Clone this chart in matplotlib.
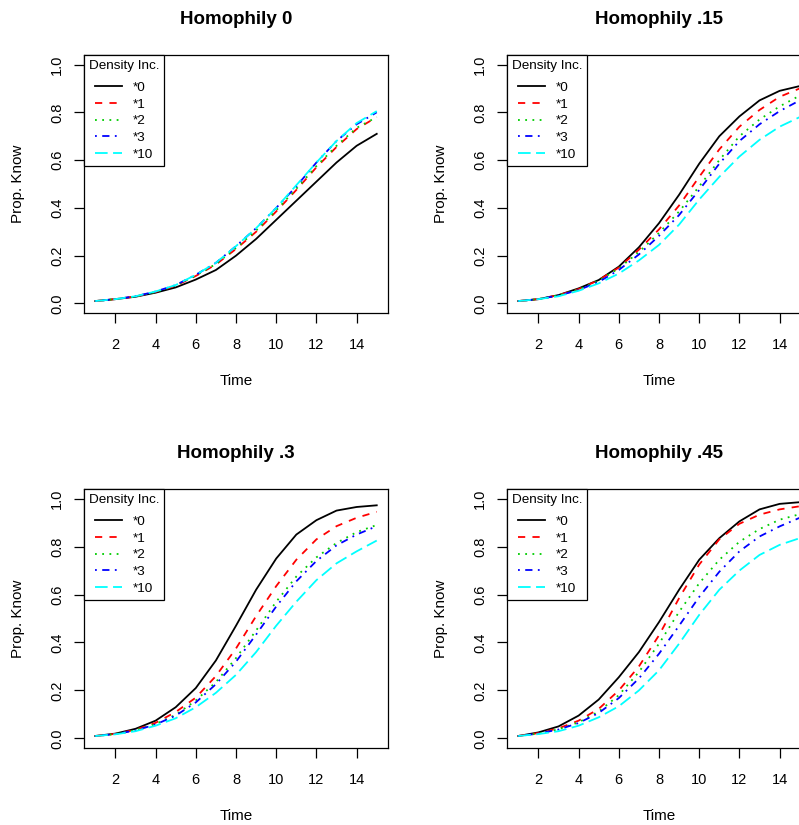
import numpy as np
import matplotlib.pyplot as plt

plt.rcParams['font.family'] = ['Liberation Sans', 'DejaVu Sans']

time = np.arange(1, 16)

titles = ["Homophily 0", "Homophily .15", "Homophily .3", "Homophily .45"]
labels = ["*0", "*1", "*2", "*3", "*10"]
colors = ["black", "red", "#00CD00", "blue", "cyan"]
dashes = [None, (4, 4), (1, 3), (1, 3, 4, 3), (7, 3)]

# homophily 0
h0_d0 = [0.01, 0.018, 0.028, 0.045, 0.067, 0.10, 0.14, 0.20, 0.27, 0.35, 0.43, 0.51, 0.59, 0.66, 0.71]
h0_d1 = [0.01, 0.018, 0.029, 0.048, 0.074, 0.115, 0.163, 0.228, 0.30, 0.385, 0.475, 0.57, 0.655, 0.73, 0.78]
h0_d2 = [0.01, 0.018, 0.029, 0.048, 0.075, 0.117, 0.165, 0.232, 0.305, 0.39, 0.48, 0.575, 0.66, 0.735, 0.78]
h0_d3 = [0.01, 0.018, 0.03, 0.05, 0.077, 0.12, 0.17, 0.24, 0.315, 0.40, 0.49, 0.59, 0.68, 0.75, 0.80]
h0_d10 = [0.01, 0.018, 0.03, 0.05, 0.077, 0.12, 0.17, 0.24, 0.315, 0.40, 0.495, 0.59, 0.68, 0.755, 0.805]

# homophily .15
h15_d0 = [0.01, 0.018, 0.035, 0.063, 0.098, 0.154, 0.235, 0.336, 0.455, 0.585, 0.70, 0.783, 0.85, 0.89, 0.91]
h15_d1 = [0.01, 0.018, 0.035, 0.06, 0.098, 0.15, 0.225, 0.31, 0.41, 0.53, 0.645, 0.74, 0.81, 0.865, 0.90]
h15_d2 = [0.01, 0.018, 0.034, 0.058, 0.095, 0.147, 0.215, 0.295, 0.385, 0.49, 0.60, 0.70, 0.77, 0.825, 0.87]
h15_d3 = [0.01, 0.018, 0.033, 0.056, 0.09, 0.14, 0.205, 0.283, 0.37, 0.475, 0.585, 0.68, 0.75, 0.805, 0.85]
h15_d10 = [0.01, 0.018, 0.03, 0.053, 0.084, 0.125, 0.18, 0.245, 0.33, 0.435, 0.53, 0.615, 0.685, 0.74, 0.78]

# homophily .3
h30_d0 = [0.01, 0.02, 0.04, 0.074, 0.13, 0.21, 0.325, 0.47, 0.62, 0.75, 0.85, 0.91, 0.95, 0.965, 0.972]
h30_d1 = [0.01, 0.019, 0.036, 0.065, 0.11, 0.17, 0.26, 0.375, 0.51, 0.635, 0.745, 0.83, 0.885, 0.92, 0.945]
h30_d2 = [0.01, 0.018, 0.034, 0.06, 0.098, 0.158, 0.235, 0.335, 0.45, 0.57, 0.675, 0.755, 0.815, 0.86, 0.89]
h30_d3 = [0.01, 0.018, 0.033, 0.058, 0.095, 0.15, 0.226, 0.32, 0.433, 0.55, 0.655, 0.74, 0.805, 0.85, 0.885]
h30_d10 = [0.01, 0.017, 0.03, 0.053, 0.084, 0.13, 0.19, 0.265, 0.36, 0.47, 0.57, 0.66, 0.73, 0.78, 0.825]

# homophily .45
h45_d0 = [0.01, 0.025, 0.05, 0.095, 0.162, 0.255, 0.36, 0.485, 0.62, 0.745, 0.835, 0.905, 0.955, 0.978, 0.985]
h45_d1 = [0.01, 0.022, 0.042, 0.074, 0.123, 0.20, 0.30, 0.43, 0.585, 0.725, 0.83, 0.895, 0.933, 0.955, 0.968]
h45_d2 = [0.01, 0.02, 0.038, 0.067, 0.112, 0.18, 0.277, 0.395, 0.528, 0.647, 0.745, 0.82, 0.873, 0.912, 0.935]
h45_d3 = [0.01, 0.02, 0.037, 0.064, 0.106, 0.168, 0.25, 0.353, 0.47, 0.59, 0.695, 0.78, 0.842, 0.884, 0.92]
h45_d10 = [0.01, 0.018, 0.03, 0.053, 0.088, 0.134, 0.20, 0.284, 0.395, 0.515, 0.62, 0.70, 0.765, 0.807, 0.835]

panels = [
    [h0_d0, h0_d1, h0_d2, h0_d3, h0_d10],
    [h15_d0, h15_d1, h15_d2, h15_d3, h15_d10],
    [h30_d0, h30_d1, h30_d2, h30_d3, h30_d10],
    [h45_d0, h45_d1, h45_d2, h45_d3, h45_d10],
]

W, H = 799, 825
fig = plt.figure(figsize=(W / 100, H / 100), dpi=100)

# axes boxes in pixels: left, top, width, height (right column runs off the edge)
boxes = [(84, 55, 304, 258), (507, 55, 304, 258),
         (84, 489, 304, 259), (507, 489, 304, 259)]

for i in range(4):
    l, t, w, h = boxes[i]
    ax = fig.add_axes([l / W, (H - t - h) / H, w / W, h / H])
    for j in range(5):
        line, = ax.plot(time, panels[i][j], color=colors[j], lw=1.3, label=labels[j])
        if dashes[j] is not None:
            line.set_dashes(dashes[j])
    ax.set_xlim(0.44, 15.56)
    ax.set_ylim(-0.04, 1.04)
    ax.set_xticks([2, 4, 6, 8, 10, 12, 14])
    ax.set_yticks([0.0, 0.2, 0.4, 0.6, 0.8, 1.0])
    ax.set_yticklabels(["0.0", "0.2", "0.4", "0.6", "0.8", "1.0"], rotation=90, va='center')
    ax.tick_params(direction='out', length=7.2, width=0.9, labelsize=10.5)
    ax.tick_params(axis='x', pad=10.5)
    ax.tick_params(axis='y', pad=7)
    for s in ax.spines.values():
        s.set_linewidth(0.9)
    ax.set_title(titles[i], fontsize=13.5, fontweight='bold', pad=22)
    ax.set_xlabel("Time", fontsize=11, labelpad=16)
    ax.set_ylabel("Prop. Know", fontsize=11, labelpad=18)
    leg = ax.legend(title="Density Inc.", loc='upper left', borderaxespad=0,
                    fancybox=False, edgecolor='black', fontsize=9.7,
                    title_fontsize=9.7, handlelength=1.95, labelspacing=0.32,
                    handletextpad=0.8, borderpad=0.35, framealpha=1)
    leg.get_frame().set_linewidth(0.9)
    leg._legend_box.sep = 7

fig.savefig("out.png", dpi=100)
